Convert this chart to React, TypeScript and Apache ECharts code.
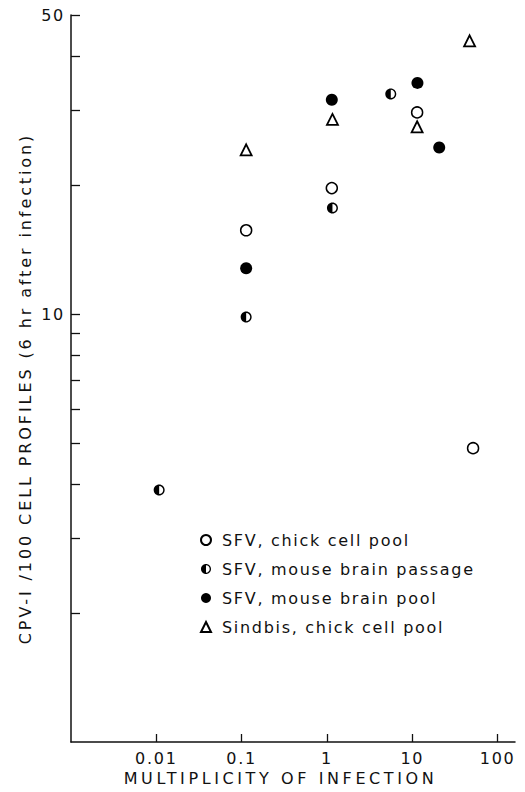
import React, { useEffect, useRef } from "react";
import * as echarts from "echarts";

// Multiplicity of infection (x) vs CPV-I / 100 cell profiles (y)
const seriesNames = [
  "SFV, chick cell pool",
  "SFV, mouse brain passage",
  "SFV, mouse brain pool",
  "Sindbis, chick cell pool",
];

const sfvChickPool: [number, number][] = [
  [0.113, 15.7],
  [1.14, 19.7],
  [11.4, 29.6],
  [51.6, 4.86],
];

const sfvMousePassage: [number, number][] = [
  [0.0108, 3.88],
  [0.113, 9.84],
  [1.16, 17.7],
  [5.6, 32.7],
];

const sfvMousePool: [number, number][] = [
  [0.113, 12.8],
  [1.14, 31.7],
  [11.5, 34.7],
  [20.7, 24.5],
];

const sindbisChickPool: [number, number][] = [
  [0.113, 24.2],
  [1.16, 28.5],
  [11.4, 27.4],
  [47, 43.5],
];

const xTickValues = [0.01, 0.1, 1, 10, 100];
const yTickValues = [2, 3, 4, 5, 6, 7, 8, 9, 10, 20, 30, 40, 50];
const yLabelValues = [10, 50];

const xAxisTitle = "MULTIPLICITY OF INFECTION";
const yAxisTitle = "CPV-I /100 CELL PROFILES (6 hr after infection)";

// left half filled, right half open ring
const HALF_CIRCLE =
  "path://M10,0 C4.477,0 0,4.477 0,10 C0,15.523 4.477,20 10,20 Z " +
  "M10,0 C15.523,0 20,4.477 20,10 C20,15.523 15.523,20 10,20 L10,17.4 " +
  "C14.087,17.4 17.4,14.087 17.4,10 C17.4,5.913 14.087,2.6 10,2.6 Z";

const FONT = "DejaVu Sans";

export default function App() {
  const ref = useRef<HTMLDivElement>(null);

  useEffect(() => {
    document.body.style.margin = "0";
    if (!ref.current) return;
    const el = ref.current;
    const chart = echarts.init(el, undefined, { renderer: "svg" });
    const textBase = { fontFamily: FONT, color: "#111", fontSize: 16 };

    const spaceTitles = () => {
      el.querySelectorAll("text").forEach((t) => {
        const s = (t.textContent || "").trim();
        if (s === xAxisTitle) t.setAttribute("letter-spacing", "3.6px");
        else if (s === yAxisTitle) t.setAttribute("letter-spacing", "2.9px");
      });
    };
    chart.on("finished", spaceTitles);

    chart.setOption({
      animation: false,
      backgroundColor: "#fff",
      grid: { left: 71, right: 10, top: 15, bottom: 50 },
      xAxis: {
        type: "log",
        logBase: 10,
        min: 0.001,
        max: 160,
        name: xAxisTitle,
        nameLocation: "middle",
        nameGap: 28,
        nameTextStyle: { ...textBase, padding: [0, 25, 0, 0] },
        axisLine: { show: true, lineStyle: { color: "#111", width: 1.5 } },
        axisTick: {
          show: true,
          inside: true,
          length: 8,
          customValues: xTickValues,
          lineStyle: { color: "#111", width: 1.3 },
        },
        axisLabel: {
          ...textBase,
          margin: 8,
          customValues: xTickValues,
          formatter: (v: number) => String(v),
        },
        splitLine: { show: false },
        minorTick: { show: false },
      },
      yAxis: {
        type: "log",
        logBase: 10,
        min: 1,
        max: 50,
        name: yAxisTitle,
        nameLocation: "middle",
        nameRotate: 90,
        nameGap: 38,
        nameTextStyle: { ...textBase, padding: [0, 20, 0, 0] },
        axisLine: { show: true, lineStyle: { color: "#111", width: 1.5 } },
        axisTick: {
          show: true,
          inside: true,
          length: 9,
          customValues: yTickValues,
          lineStyle: { color: "#111", width: 1.3 },
        },
        axisLabel: {
          ...textBase,
          margin: 6,
          customValues: yLabelValues,
          formatter: (v: number) => String(v),
        },
        splitLine: { show: false },
        minorTick: { show: false },
      },
      legend: {
        orient: "vertical",
        left: 195,
        top: 526,
        itemWidth: 10,
        itemHeight: 10,
        itemGap: 11,
        selectedMode: false,
        textStyle: {
          ...textBase,
          lineHeight: 18,
          padding: [0, 0, 0, 6],
        },
        data: seriesNames,
      },
      series: [
        {
          name: seriesNames[0],
          type: "scatter",
          symbol: "circle",
          symbolSize: 11,
          itemStyle: { color: "#fff", borderColor: "#000", borderWidth: 1.5, opacity: 1 },
          data: sfvChickPool,
        },
        {
          name: seriesNames[1],
          type: "scatter",
          symbol: HALF_CIRCLE,
          symbolSize: 11,
          itemStyle: { color: "#000", borderWidth: 0, opacity: 1 },
          data: sfvMousePassage,
        },
        {
          name: seriesNames[2],
          type: "scatter",
          symbol: "circle",
          symbolSize: 12,
          itemStyle: { color: "#000", borderWidth: 0, opacity: 1 },
          data: sfvMousePool,
        },
        {
          name: seriesNames[3],
          type: "scatter",
          symbol: "triangle",
          symbolSize: 11,
          itemStyle: { color: "#fff", borderColor: "#000", borderWidth: 1.8, opacity: 1 },
          data: sindbisChickPool,
        },
      ],
    });
    spaceTitles();
    const raf = requestAnimationFrame(spaceTitles);
    return () => {
      cancelAnimationFrame(raf);
      chart.dispose();
    };
  }, []);

  return (
    <div
      ref={ref}
      style={{
        position: "absolute",
        left: 0,
        top: 0,
        width: 525,
        height: 792,
        letterSpacing: "1.7px",
      }}
    />
  );
}
